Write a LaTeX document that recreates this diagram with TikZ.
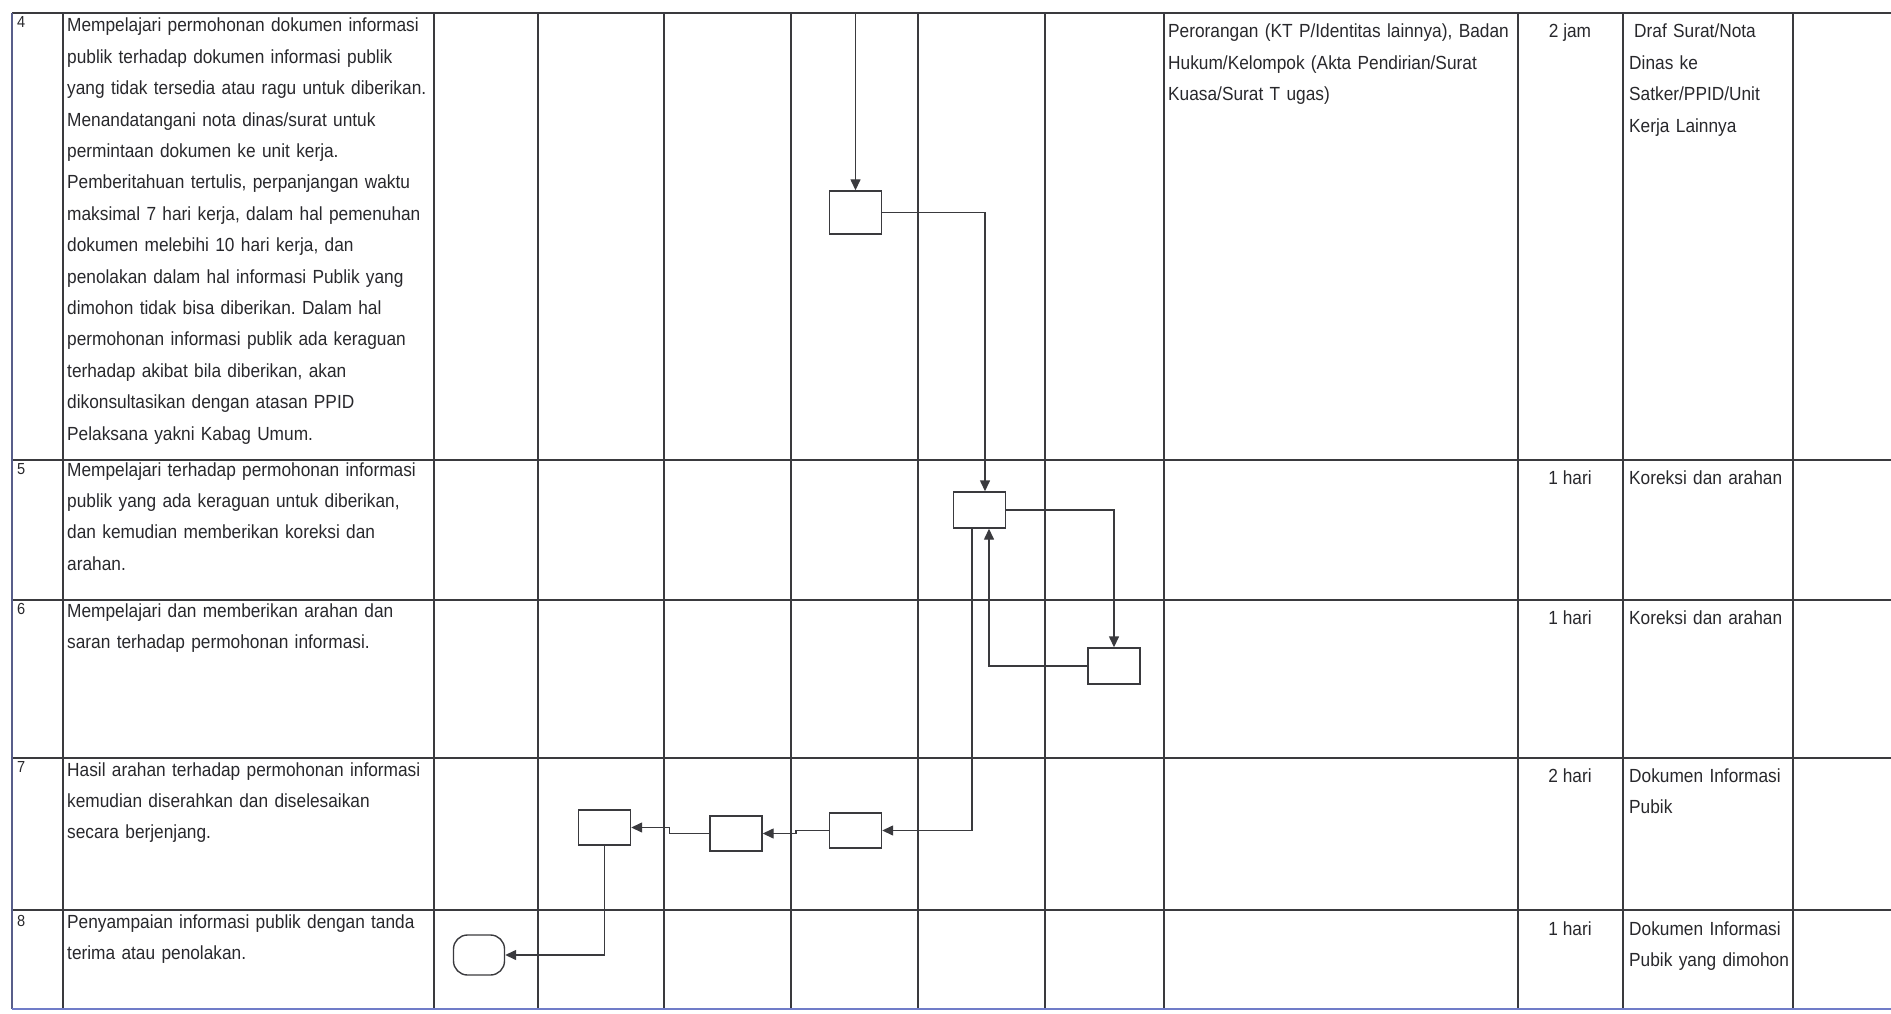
\documentclass[tikz,border=0pt]{standalone}
\usepackage{fontspec}
\setmainfont[FakeStretch=0.91]{Liberation Sans}
\usepackage{tikz}
\usetikzlibrary{arrows.meta,positioning}
\usepackage{xcolor}
\definecolor{garis}{RGB}{58,58,62}
\definecolor{tulisan}{RGB}{40,40,44}
\definecolor{tepibiru}{RGB}{112,124,200}
\frenchspacing

\begin{document}
\begin{tikzpicture}[
        x=1pt, y=-1pt,
        every node/.style={font=\fontsize{19}{31.4}\selectfont, text=tulisan},
        box/.style={draw=garis, line width=1.4pt, minimum width=52pt, minimum height=36pt, inner sep=0pt},
        ujung/.style={box, rounded corners=14pt, minimum width=51pt, minimum height=40pt},
        teks/.style={anchor=base west, inner sep=0pt, align=left, text width=#1},
        teks/.default=420pt,
        nomor/.style={anchor=base west, inner sep=0pt, font=\fontsize{16}{18}\selectfont},
        waktu/.style={anchor=base, inner sep=0pt},
        alur/.style={draw=garis, line width=1.4pt, -{Triangle[length=11pt,width=10pt]}},
        garisgrid/.style={draw=garis, line width=1.6pt}
      ]
      \useasboundingbox (0,0) rectangle (1891,1014);

      % tabel
      \foreach \gx in {63,434,538,664,791,918,1045,1164,1518,1623,1793}
        \draw[garisgrid] (\gx,13) -- (\gx,1009);
      \foreach \gy in {13,460,600,758,910}
        \draw[garisgrid] (12,\gy) -- (1891,\gy);
      \draw[garisgrid, draw=tepibiru!55!garis] (12,13) -- (12,1009);
      \draw[garisgrid, draw=tepibiru, line width=2.6pt] (12,1009) -- (1891,1009);

      % nomor langkah
      \node[nomor] (no4) at (17,28)  {4};
      \node[nomor] (no5) at (17,474) {5};
      \node[nomor] (no6) at (17,614) {6};
      \node[nomor] (no7) at (17,772) {7};
      \node[nomor] (no8) at (17,926) {8};

      % uraian kegiatan
      \node[teks] (ket4) at (67,32) {Mempelajari permohonan dokumen informasi\\
        publik terhadap dokumen informasi publik\\
        yang tidak tersedia atau ragu untuk diberikan.\\
        Menandatangani nota dinas/surat untuk\\
        permintaan dokumen ke unit kerja.\\
        Pemberitahuan tertulis, perpanjangan waktu\\
        maksimal 7 hari kerja, dalam hal pemenuhan\\
        dokumen melebihi 10 hari kerja, dan\\
        penolakan dalam hal informasi Publik yang\\
        dimohon tidak bisa diberikan. Dalam hal\\
        permohonan informasi publik ada keraguan\\
        terhadap akibat bila diberikan, akan\\
        dikonsultasikan dengan atasan PPID\\
        Pelaksana yakni Kabag Umum.};
      \node[teks] (ket5) at (67,476) {Mempelajari terhadap permohonan informasi\\
        publik yang ada keraguan untuk diberikan,\\
        dan kemudian memberikan koreksi dan\\
        arahan.};
      \node[teks] (ket6) at (67,617) {Mempelajari dan memberikan arahan dan\\
        saran terhadap permohonan informasi.};
      \node[teks] (ket7) at (67,776) {Hasil arahan terhadap permohonan informasi\\
        kemudian diserahkan dan diselesaikan\\
        secara berjenjang.};
      \node[teks] (ket8) at (67,928) {Penyampaian informasi publik dengan tanda\\
        terima atau penolakan.};

      % persyaratan, waktu, output
      \node[teks=400pt] (syarat4) at (1168,38) {Perorangan (KT P/Identitas lainnya), Badan\\
        Hukum/Kelompok (Akta Pendirian/Surat\\
        Kuasa/Surat T ugas)};
      \node[waktu] (wkt4) at (1570,38)  {2 jam};
      \node[waktu] (wkt5) at (1570,484) {1 hari};
      \node[waktu] (wkt6) at (1570,624) {1 hari};
      \node[waktu] (wkt7) at (1570,782) {2 hari};
      \node[waktu] (wkt8) at (1570,935) {1 hari};
      \node[teks=240pt] (out4) at (1634,38) {Draf Surat/Nota\\
        \hspace*{-5pt}Dinas ke\\
        \hspace*{-5pt}Satker/PPID/Unit\\
        \hspace*{-5pt}Kerja Lainnya};
      \node[teks=240pt] (out5) at (1629,484) {Koreksi dan arahan};
      \node[teks=240pt] (out6) at (1629,624) {Koreksi dan arahan};
      \node[teks=240pt] (out7) at (1629,782) {Dokumen Informasi\\Pubik};
      \node[teks=240pt] (out8) at (1629,935) {Dokumen Informasi\\Pubik yang dimohon};

      % simbol alur
      \coordinate (masuk) at (855.5,13);
      \node[box, minimum height=43pt] (terima) at (855.5,212.5) {};
      \node[box] (kaji) at (979.5,510) {};
      \node[box] (arah) at (1114,666) {};
      \node[box, minimum height=35pt] (serah3) at (855.5,830.5) {};
      \node[box, minimum height=35pt] (serah2) at (736,833.5) {};
      \node[box, minimum height=35pt] (serah1) at (604.5,827.5) {};
      \node[ujung] (selesai) at (479,955) {};

      \draw[alur] (masuk) -- (terima);
      \draw[alur] (terima.east) -| ([xshift=5.5pt]kaji.north);
      \draw[alur] (kaji.east) -| (arah.north);
      \draw[alur] (arah.west) -| ([xshift=9.5pt]kaji.south);
      \draw[alur] ([xshift=-7.5pt]kaji.south) |- (serah3.east);
      \draw[alur] (serah3.west) -- ++(-33,0) |- (serah2.east);
      \draw[alur] (serah2.west) -- ++(-40,0) |- (serah1.east);
      \draw[alur] (serah1.south) |- (selesai.east);
    \end{tikzpicture}
\end{document}
